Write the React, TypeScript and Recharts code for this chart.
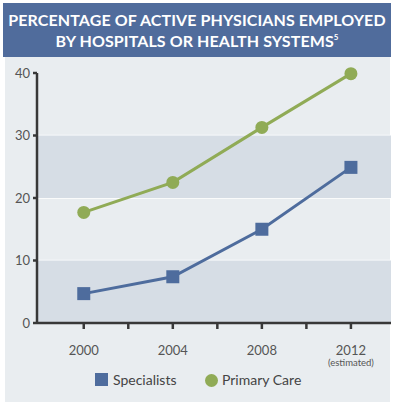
import { LineChart, Line, XAxis, YAxis, CartesianGrid, ReferenceArea } from "recharts"

const years = [2000, 2004, 2008, 2012]
const specialists = [4.7, 7.4, 15.0, 24.9]
const primaryCare = [17.7, 22.5, 31.3, 39.9]
const xTicks = [2000, 2002, 2004, 2006, 2008, 2010, 2012]
const labelYears = [2000, 2004, 2008, 2012]
const yTicks = [0, 10, 20, 30, 40]
const shadedBands = [
  [0, 10],
  [20, 30],
]

const data = years.map((year, i) => ({
  year,
  specialists: specialists[i],
  primaryCare: primaryCare[i],
}))

const BLUE = "#4e6c9d"
const GREEN = "#90ab56"
const AXIS = "#383838"
const FONT = "Lato, 'Open Sans', sans-serif"

function SquareDot({ cx, cy }: any) {
  return <rect x={cx - 6.5} y={cy - 6.5} width={13} height={13} fill={BLUE} />
}

function CircleDot({ cx, cy }: any) {
  return <circle cx={cx} cy={cy} r={6.5} fill={GREEN} />
}

function YearTick({ x, y, payload }: any) {
  if (!labelYears.includes(payload.value)) return <g />
  return (
    <g>
      <text x={x} y={y + 24} textAnchor="middle" fill="#555" fontSize={13} fontFamily={FONT}>
        {payload.value}
      </text>
      {payload.value === 2012 && (
        <text x={x} y={y + 35} textAnchor="middle" fill="#555" fontSize={9.5} fontFamily={FONT}>
          (estimated)
        </text>
      )}
    </g>
  )
}

export default function App() {
  return (
    <div style={{ position: "absolute", left: 0, top: 0, width: 394, height: 406, background: "#fff", fontFamily: FONT }}>
      <div
        style={{
          position: "absolute",
          left: 3,
          top: 3,
          width: 388,
          height: 54,
          background: "#506c9c",
          color: "#fff",
          fontWeight: 700,
          fontSize: 16,
          letterSpacing: 0.1,
          lineHeight: "21px",
          textAlign: "center",
          paddingTop: 6,
          boxSizing: "border-box",
        }}
      >
        PERCENTAGE OF ACTIVE PHYSICIANS EMPLOYED
        <br />
        BY HOSPITALS OR HEALTH SYSTEMS<sup style={{ fontSize: 8, verticalAlign: "top", lineHeight: "14px" }}>5</sup>
      </div>
      <div style={{ position: "absolute", left: 5, top: 57, width: 385, height: 345, background: "#e9edf0" }} />
      <div style={{ position: "absolute", left: 0, top: 57 }}>
        <LineChart width={394} height={349} data={data} margin={{ top: 16, right: 3, bottom: 26, left: 0 }}>
          {shadedBands.map(([y1, y2]) => (
            <ReferenceArea key={y1} y1={y1} y2={y2} fill="#d6dde5" fillOpacity={1} stroke="none" ifOverflow="hidden" />
          ))}
          <CartesianGrid vertical={false} stroke="#ffffff" strokeWidth={1.5} horizontalValues={[10, 20, 30]} />
          <XAxis
            dataKey="year"
            type="number"
            domain={[1997.9, 2013.8]}
            ticks={xTicks}
            allowDataOverflow
            stroke={AXIS}
            strokeWidth={2.5}
            tickSize={6}
            tickMargin={2}
            tick={<YearTick />}
            height={57}
            interval={0}
          />
          <YAxis
            type="number"
            domain={[0, 40]}
            ticks={yTicks}
            width={37}
            stroke={AXIS}
            strokeWidth={2.5}
            tickSize={4}
            tickMargin={3}
            tick={{ fill: "#555", fontSize: 13, fontFamily: FONT }}
          />
          <Line
            dataKey="primaryCare"
            stroke={GREEN}
            strokeWidth={3}
            dot={<CircleDot />}
            activeDot={false}
            isAnimationActive={false}
          />
          <Line
            dataKey="specialists"
            stroke={BLUE}
            strokeWidth={3}
            dot={<SquareDot />}
            activeDot={false}
            isAnimationActive={false}
          />
        </LineChart>
      </div>
      <div style={{ position: "absolute", left: 95, top: 373, width: 13, height: 13, background: BLUE }} />
      <div style={{ position: "absolute", left: 113, top: 371, fontSize: 14, color: "#444", lineHeight: "18px" }}>Specialists</div>
      <div style={{ position: "absolute", left: 205, top: 374, width: 13, height: 13, borderRadius: "50%", background: GREEN }} />
      <div style={{ position: "absolute", left: 222, top: 371, fontSize: 14, color: "#444", lineHeight: "18px" }}>Primary Care</div>
    </div>
  )
}
